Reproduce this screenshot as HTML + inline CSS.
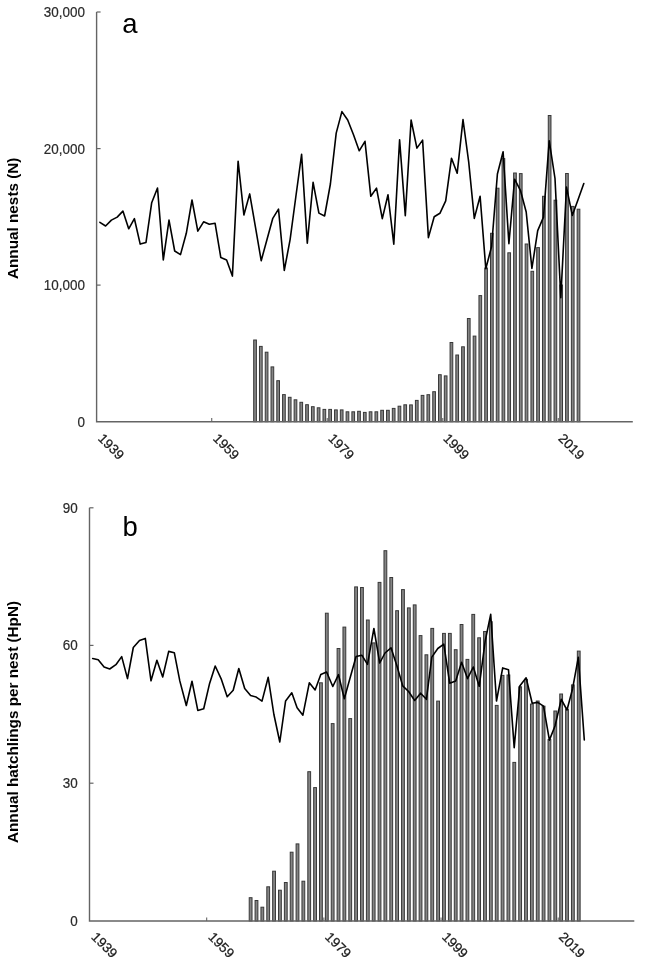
<!DOCTYPE html>
<html><head><meta charset="utf-8"><style>
html,body{margin:0;padding:0;background:#fff;}
body{width:645px;height:974px;overflow:hidden;position:relative;}
svg{position:absolute;left:0;top:0;will-change:transform;}
text{font-family:"Liberation Sans",sans-serif;}
</style></head><body>
<svg width="645" height="974" viewBox="0 0 645 974">

<rect x="253.69" y="340" width="2.7" height="81.7" fill="#858585" stroke="#383838" stroke-width="1.0"/>
<rect x="259.47" y="346.4" width="2.7" height="75.3" fill="#858585" stroke="#383838" stroke-width="1.0"/>
<rect x="265.24" y="352.2" width="2.7" height="69.5" fill="#858585" stroke="#383838" stroke-width="1.0"/>
<rect x="271.02" y="366.9" width="2.7" height="54.8" fill="#858585" stroke="#383838" stroke-width="1.0"/>
<rect x="276.79" y="380.7" width="2.7" height="41" fill="#858585" stroke="#383838" stroke-width="1.0"/>
<rect x="282.57" y="394.6" width="2.7" height="27.1" fill="#858585" stroke="#383838" stroke-width="1.0"/>
<rect x="288.35" y="397.3" width="2.7" height="24.4" fill="#858585" stroke="#383838" stroke-width="1.0"/>
<rect x="294.12" y="399.8" width="2.7" height="21.9" fill="#858585" stroke="#383838" stroke-width="1.0"/>
<rect x="299.9" y="402.3" width="2.7" height="19.4" fill="#858585" stroke="#383838" stroke-width="1.0"/>
<rect x="305.67" y="404.7" width="2.7" height="17" fill="#858585" stroke="#383838" stroke-width="1.0"/>
<rect x="311.45" y="406.7" width="2.7" height="15" fill="#858585" stroke="#383838" stroke-width="1.0"/>
<rect x="317.23" y="407.8" width="2.7" height="13.9" fill="#858585" stroke="#383838" stroke-width="1.0"/>
<rect x="323" y="409.4" width="2.7" height="12.3" fill="#858585" stroke="#383838" stroke-width="1.0"/>
<rect x="328.78" y="409.4" width="2.7" height="12.3" fill="#858585" stroke="#383838" stroke-width="1.0"/>
<rect x="334.55" y="409.9" width="2.7" height="11.8" fill="#858585" stroke="#383838" stroke-width="1.0"/>
<rect x="340.33" y="409.9" width="2.7" height="11.8" fill="#858585" stroke="#383838" stroke-width="1.0"/>
<rect x="346.11" y="411.8" width="2.7" height="9.9" fill="#858585" stroke="#383838" stroke-width="1.0"/>
<rect x="351.88" y="411.8" width="2.7" height="9.9" fill="#858585" stroke="#383838" stroke-width="1.0"/>
<rect x="357.66" y="411.3" width="2.7" height="10.4" fill="#858585" stroke="#383838" stroke-width="1.0"/>
<rect x="363.43" y="412.4" width="2.7" height="9.3" fill="#858585" stroke="#383838" stroke-width="1.0"/>
<rect x="369.21" y="411.8" width="2.7" height="9.9" fill="#858585" stroke="#383838" stroke-width="1.0"/>
<rect x="374.99" y="411.8" width="2.7" height="9.9" fill="#858585" stroke="#383838" stroke-width="1.0"/>
<rect x="380.76" y="410.3" width="2.7" height="11.4" fill="#858585" stroke="#383838" stroke-width="1.0"/>
<rect x="386.54" y="410.3" width="2.7" height="11.4" fill="#858585" stroke="#383838" stroke-width="1.0"/>
<rect x="392.31" y="408.4" width="2.7" height="13.3" fill="#858585" stroke="#383838" stroke-width="1.0"/>
<rect x="398.09" y="406.2" width="2.7" height="15.5" fill="#858585" stroke="#383838" stroke-width="1.0"/>
<rect x="403.87" y="404.8" width="2.7" height="16.9" fill="#858585" stroke="#383838" stroke-width="1.0"/>
<rect x="409.64" y="404.9" width="2.7" height="16.8" fill="#858585" stroke="#383838" stroke-width="1.0"/>
<rect x="415.42" y="400.4" width="2.7" height="21.3" fill="#858585" stroke="#383838" stroke-width="1.0"/>
<rect x="421.19" y="395.4" width="2.7" height="26.3" fill="#858585" stroke="#383838" stroke-width="1.0"/>
<rect x="426.97" y="394.7" width="2.7" height="27" fill="#858585" stroke="#383838" stroke-width="1.0"/>
<rect x="432.75" y="391.7" width="2.7" height="30" fill="#858585" stroke="#383838" stroke-width="1.0"/>
<rect x="438.52" y="374.7" width="2.7" height="47" fill="#858585" stroke="#383838" stroke-width="1.0"/>
<rect x="444.3" y="375.9" width="2.7" height="45.8" fill="#858585" stroke="#383838" stroke-width="1.0"/>
<rect x="450.07" y="342.5" width="2.7" height="79.2" fill="#858585" stroke="#383838" stroke-width="1.0"/>
<rect x="455.85" y="355" width="2.7" height="66.7" fill="#858585" stroke="#383838" stroke-width="1.0"/>
<rect x="461.63" y="346.8" width="2.7" height="74.9" fill="#858585" stroke="#383838" stroke-width="1.0"/>
<rect x="467.4" y="318.5" width="2.7" height="103.2" fill="#858585" stroke="#383838" stroke-width="1.0"/>
<rect x="473.18" y="336.1" width="2.7" height="85.6" fill="#858585" stroke="#383838" stroke-width="1.0"/>
<rect x="478.95" y="295.6" width="2.7" height="126.1" fill="#858585" stroke="#383838" stroke-width="1.0"/>
<rect x="484.73" y="268" width="2.7" height="153.7" fill="#858585" stroke="#383838" stroke-width="1.0"/>
<rect x="490.51" y="233.3" width="2.7" height="188.4" fill="#858585" stroke="#383838" stroke-width="1.0"/>
<rect x="496.28" y="188.2" width="2.7" height="233.5" fill="#858585" stroke="#383838" stroke-width="1.0"/>
<rect x="502.06" y="158.6" width="2.7" height="263.1" fill="#858585" stroke="#383838" stroke-width="1.0"/>
<rect x="507.83" y="252.8" width="2.7" height="168.9" fill="#858585" stroke="#383838" stroke-width="1.0"/>
<rect x="513.61" y="173" width="2.7" height="248.7" fill="#858585" stroke="#383838" stroke-width="1.0"/>
<rect x="519.39" y="173.6" width="2.7" height="248.1" fill="#858585" stroke="#383838" stroke-width="1.0"/>
<rect x="525.16" y="244" width="2.7" height="177.7" fill="#858585" stroke="#383838" stroke-width="1.0"/>
<rect x="530.94" y="271.3" width="2.7" height="150.4" fill="#858585" stroke="#383838" stroke-width="1.0"/>
<rect x="536.71" y="247.6" width="2.7" height="174.1" fill="#858585" stroke="#383838" stroke-width="1.0"/>
<rect x="542.49" y="196.3" width="2.7" height="225.4" fill="#858585" stroke="#383838" stroke-width="1.0"/>
<rect x="548.27" y="115.5" width="2.7" height="306.2" fill="#858585" stroke="#383838" stroke-width="1.0"/>
<rect x="554.04" y="200.2" width="2.7" height="221.5" fill="#858585" stroke="#383838" stroke-width="1.0"/>
<rect x="559.82" y="285" width="2.7" height="136.7" fill="#858585" stroke="#383838" stroke-width="1.0"/>
<rect x="565.59" y="173.5" width="2.7" height="248.2" fill="#858585" stroke="#383838" stroke-width="1.0"/>
<rect x="571.37" y="206.4" width="2.7" height="215.3" fill="#858585" stroke="#383838" stroke-width="1.0"/>
<rect x="577.15" y="209.2" width="2.7" height="212.5" fill="#858585" stroke="#383838" stroke-width="1.0"/>
<path d="M96.6 12V421.7H632.8" fill="none" stroke="#646464" stroke-width="1.4"/>
<path d="M96.6 12H100.6" stroke="#646464" stroke-width="1.2"/>
<path d="M96.6 148.6H100.6" stroke="#646464" stroke-width="1.2"/>
<path d="M96.6 285.1H100.6" stroke="#646464" stroke-width="1.2"/>
<path d="M211.72 421.7V418.1" stroke="#646464" stroke-width="1.1"/>
<path d="M327.24 421.7V418.1" stroke="#646464" stroke-width="1.1"/>
<path d="M442.76 421.7V418.1" stroke="#646464" stroke-width="1.1"/>
<path d="M558.28 421.7V418.1" stroke="#646464" stroke-width="1.1"/>
<polyline points="99.9,222.3 105.6,226 111.4,220.1 117.2,217.1 122.9,211.1 128.7,228.8 134.4,218.7 140.2,244.1 146,242.4 151.7,202.7 157.5,188 163.3,259.9 169,220.1 174.7,251 180.5,254.6 186.3,233.3 192,200 197.8,231.2 203.6,221.8 209.3,224.3 215.1,223.3 220.8,257.5 226.6,259.9 232.4,276.1 238.1,161.2 243.9,215 249.7,193.9 255.5,227.3 261.2,260.7 267,239.5 272.8,218.3 278.5,209.2 284.3,270.4 290.1,239.6 295.8,197 301.6,154.4 307.3,243.2 313.1,182.4 318.9,213.1 324.6,216 330.4,184 336.2,133.1 341.9,111.6 347.7,120 353.5,134.7 359.2,150.8 365,141.3 370.8,196.3 376.5,188.1 382.3,218.6 388,194.8 393.8,244.1 399.6,139.8 405.3,215.6 411.1,120 416.9,148.1 422.6,140.1 428.4,237.6 434.2,216.8 439.9,213.3 445.7,200.9 451.5,158.2 457.2,173.2 463,119.6 468.7,162 474.3,218.4 480.1,196.2 485.8,268.7 491.6,246.5 497.4,174 503.1,151.8 508.9,243.7 514.6,179.2 520.4,190.3 526.2,212 531.9,268.5 537.7,230.6 543.5,217.1 549.2,140.7 555,178.5 560.8,297.6 566.5,187.1 572.3,215.4 578.1,199.5 583.8,183.6" fill="none" stroke="#000" stroke-width="1.6" stroke-linejoin="round" stroke-linecap="round"/>
<text transform="translate(84.9,16.9) scale(0.955,1)" font-size="14.1" fill="#2a2a2a" stroke="#2a2a2a" stroke-width="0.2" text-anchor="end">30,000</text>
<text transform="translate(84.9,153.5) scale(0.955,1)" font-size="14.1" fill="#2a2a2a" stroke="#2a2a2a" stroke-width="0.2" text-anchor="end">20,000</text>
<text transform="translate(84.9,290) scale(0.955,1)" font-size="14.1" fill="#2a2a2a" stroke="#2a2a2a" stroke-width="0.2" text-anchor="end">10,000</text>
<text transform="translate(84.9,426.6) scale(0.955,1)" font-size="14.1" fill="#2a2a2a" stroke="#2a2a2a" stroke-width="0.2" text-anchor="end">0</text>
<text transform="translate(97.3,439.2) rotate(45)" font-size="13.5" fill="#1a1a1a" stroke="#1a1a1a" stroke-width="0.25">1939</text>
<text transform="translate(212.34,439.2) rotate(45)" font-size="13.5" fill="#1a1a1a" stroke="#1a1a1a" stroke-width="0.25">1959</text>
<text transform="translate(327.38,439.2) rotate(45)" font-size="13.5" fill="#1a1a1a" stroke="#1a1a1a" stroke-width="0.25">1979</text>
<text transform="translate(442.42,439.2) rotate(45)" font-size="13.5" fill="#1a1a1a" stroke="#1a1a1a" stroke-width="0.25">1999</text>
<text transform="translate(557.46,439.2) rotate(45)" font-size="13.5" fill="#1a1a1a" stroke="#1a1a1a" stroke-width="0.25">2019</text>
<text x="122.2" y="32.6" font-size="27.5" fill="#000">a</text>
<text transform="translate(17.7,218.3) rotate(-90)" font-size="15.3" font-weight="bold" fill="#000" text-anchor="middle">Annual nests (N)</text>
<rect x="249.22" y="897.7" width="2.8" height="23.3" fill="#858585" stroke="#383838" stroke-width="1.0"/>
<rect x="255.08" y="900.5" width="2.8" height="20.5" fill="#858585" stroke="#383838" stroke-width="1.0"/>
<rect x="260.94" y="907.2" width="2.8" height="13.8" fill="#858585" stroke="#383838" stroke-width="1.0"/>
<rect x="266.8" y="886.8" width="2.8" height="34.2" fill="#858585" stroke="#383838" stroke-width="1.0"/>
<rect x="272.66" y="871.2" width="2.8" height="49.8" fill="#858585" stroke="#383838" stroke-width="1.0"/>
<rect x="278.52" y="890.2" width="2.8" height="30.8" fill="#858585" stroke="#383838" stroke-width="1.0"/>
<rect x="284.38" y="882.5" width="2.8" height="38.5" fill="#858585" stroke="#383838" stroke-width="1.0"/>
<rect x="290.24" y="852.2" width="2.8" height="68.8" fill="#858585" stroke="#383838" stroke-width="1.0"/>
<rect x="296.09" y="843.9" width="2.8" height="77.1" fill="#858585" stroke="#383838" stroke-width="1.0"/>
<rect x="301.95" y="881.2" width="2.8" height="39.8" fill="#858585" stroke="#383838" stroke-width="1.0"/>
<rect x="307.81" y="771.7" width="2.8" height="149.3" fill="#858585" stroke="#383838" stroke-width="1.0"/>
<rect x="313.67" y="787.6" width="2.8" height="133.4" fill="#858585" stroke="#383838" stroke-width="1.0"/>
<rect x="319.53" y="682.8" width="2.8" height="238.2" fill="#858585" stroke="#383838" stroke-width="1.0"/>
<rect x="325.39" y="613.2" width="2.8" height="307.8" fill="#858585" stroke="#383838" stroke-width="1.0"/>
<rect x="331.25" y="723.6" width="2.8" height="197.4" fill="#858585" stroke="#383838" stroke-width="1.0"/>
<rect x="337.11" y="648.5" width="2.8" height="272.5" fill="#858585" stroke="#383838" stroke-width="1.0"/>
<rect x="342.97" y="627.1" width="2.8" height="293.9" fill="#858585" stroke="#383838" stroke-width="1.0"/>
<rect x="348.83" y="718.6" width="2.8" height="202.4" fill="#858585" stroke="#383838" stroke-width="1.0"/>
<rect x="354.68" y="586.9" width="2.8" height="334.1" fill="#858585" stroke="#383838" stroke-width="1.0"/>
<rect x="360.54" y="587.5" width="2.8" height="333.5" fill="#858585" stroke="#383838" stroke-width="1.0"/>
<rect x="366.4" y="620" width="2.8" height="301" fill="#858585" stroke="#383838" stroke-width="1.0"/>
<rect x="372.26" y="642.9" width="2.8" height="278.1" fill="#858585" stroke="#383838" stroke-width="1.0"/>
<rect x="378.12" y="582.4" width="2.8" height="338.6" fill="#858585" stroke="#383838" stroke-width="1.0"/>
<rect x="383.98" y="550.7" width="2.8" height="370.3" fill="#858585" stroke="#383838" stroke-width="1.0"/>
<rect x="389.84" y="577.5" width="2.8" height="343.5" fill="#858585" stroke="#383838" stroke-width="1.0"/>
<rect x="395.7" y="610.7" width="2.8" height="310.3" fill="#858585" stroke="#383838" stroke-width="1.0"/>
<rect x="401.56" y="589.6" width="2.8" height="331.4" fill="#858585" stroke="#383838" stroke-width="1.0"/>
<rect x="407.42" y="607.9" width="2.8" height="313.1" fill="#858585" stroke="#383838" stroke-width="1.0"/>
<rect x="413.27" y="604.9" width="2.8" height="316.1" fill="#858585" stroke="#383838" stroke-width="1.0"/>
<rect x="419.13" y="635.6" width="2.8" height="285.4" fill="#858585" stroke="#383838" stroke-width="1.0"/>
<rect x="424.99" y="654.8" width="2.8" height="266.2" fill="#858585" stroke="#383838" stroke-width="1.0"/>
<rect x="430.85" y="628.4" width="2.8" height="292.6" fill="#858585" stroke="#383838" stroke-width="1.0"/>
<rect x="436.71" y="701.1" width="2.8" height="219.9" fill="#858585" stroke="#383838" stroke-width="1.0"/>
<rect x="442.57" y="633.4" width="2.8" height="287.6" fill="#858585" stroke="#383838" stroke-width="1.0"/>
<rect x="448.43" y="633.4" width="2.8" height="287.6" fill="#858585" stroke="#383838" stroke-width="1.0"/>
<rect x="454.29" y="649.7" width="2.8" height="271.3" fill="#858585" stroke="#383838" stroke-width="1.0"/>
<rect x="460.15" y="624.5" width="2.8" height="296.5" fill="#858585" stroke="#383838" stroke-width="1.0"/>
<rect x="466.01" y="659.4" width="2.8" height="261.6" fill="#858585" stroke="#383838" stroke-width="1.0"/>
<rect x="471.86" y="614.4" width="2.8" height="306.6" fill="#858585" stroke="#383838" stroke-width="1.0"/>
<rect x="477.72" y="637.8" width="2.8" height="283.2" fill="#858585" stroke="#383838" stroke-width="1.0"/>
<rect x="483.58" y="631.5" width="2.8" height="289.5" fill="#858585" stroke="#383838" stroke-width="1.0"/>
<rect x="489.44" y="621.7" width="2.8" height="299.3" fill="#858585" stroke="#383838" stroke-width="1.0"/>
<rect x="495.3" y="705.4" width="2.8" height="215.6" fill="#858585" stroke="#383838" stroke-width="1.0"/>
<rect x="501.16" y="675.4" width="2.8" height="245.6" fill="#858585" stroke="#383838" stroke-width="1.0"/>
<rect x="507.02" y="675" width="2.8" height="246" fill="#858585" stroke="#383838" stroke-width="1.0"/>
<rect x="512.88" y="762.4" width="2.8" height="158.6" fill="#858585" stroke="#383838" stroke-width="1.0"/>
<rect x="518.74" y="686.8" width="2.8" height="234.2" fill="#858585" stroke="#383838" stroke-width="1.0"/>
<rect x="524.6" y="679.4" width="2.8" height="241.6" fill="#858585" stroke="#383838" stroke-width="1.0"/>
<rect x="530.45" y="704.1" width="2.8" height="216.9" fill="#858585" stroke="#383838" stroke-width="1.0"/>
<rect x="536.31" y="701" width="2.8" height="220" fill="#858585" stroke="#383838" stroke-width="1.0"/>
<rect x="542.17" y="706.2" width="2.8" height="214.8" fill="#858585" stroke="#383838" stroke-width="1.0"/>
<rect x="548.03" y="739.6" width="2.8" height="181.4" fill="#858585" stroke="#383838" stroke-width="1.0"/>
<rect x="553.89" y="711" width="2.8" height="210" fill="#858585" stroke="#383838" stroke-width="1.0"/>
<rect x="559.75" y="694" width="2.8" height="227" fill="#858585" stroke="#383838" stroke-width="1.0"/>
<rect x="565.61" y="709.3" width="2.8" height="211.7" fill="#858585" stroke="#383838" stroke-width="1.0"/>
<rect x="571.47" y="684.9" width="2.8" height="236.1" fill="#858585" stroke="#383838" stroke-width="1.0"/>
<rect x="577.33" y="651.1" width="2.8" height="269.9" fill="#858585" stroke="#383838" stroke-width="1.0"/>
<path d="M89.5 507.8V921H634.3" fill="none" stroke="#646464" stroke-width="1.4"/>
<path d="M89.5 507.8H93.5" stroke="#646464" stroke-width="1.2"/>
<path d="M89.5 645.4H93.5" stroke="#646464" stroke-width="1.2"/>
<path d="M89.5 783.2H93.5" stroke="#646464" stroke-width="1.2"/>
<path d="M206.68 921V917.4" stroke="#646464" stroke-width="1.1"/>
<path d="M323.86 921V917.4" stroke="#646464" stroke-width="1.1"/>
<path d="M441.04 921V917.4" stroke="#646464" stroke-width="1.1"/>
<path d="M558.22 921V917.4" stroke="#646464" stroke-width="1.1"/>
<polyline points="92.7,658.5 98.2,659.7 104.1,666.9 109.7,669 115.9,664.7 121.7,656.6 127.5,678.6 133.3,647.5 139.5,640.5 145.3,638.4 151,680.8 156.9,660.3 162.7,677 168.7,651.4 174.3,652.7 179.8,680.9 186.3,705.5 192,681.2 197.8,710.4 203.7,708.8 209.6,683.4 215.2,666 221.4,679.4 227.2,696.8 233.2,690.3 238.8,668.5 244.7,688.5 250.6,695.6 256.2,697.1 262,701.1 268.2,677.3 273.9,714.5 279.8,742 285.6,700.9 291.8,692.8 297.1,707.7 302.9,715.2 309.3,682.8 315.1,690 320.8,674.5 326.6,672 332.8,686.5 338.5,674.7 344.3,698.8 350.2,677.5 356.1,656.5 361.8,655.2 367.5,664.3 373.9,628.5 379.7,663 385,653 391,647.8 396.8,665.5 402.7,685.8 408.6,691.5 414.7,700.5 420.6,693.2 426.4,699.3 431.8,657.1 437.8,648.5 443.8,644.1 449.7,683.2 455.7,681 461.6,662.2 467.5,678.6 473.3,667 479.2,686.3 485.2,640.8 490.7,614.4 496.5,701 502.7,667.9 508.5,669.8 514.2,747.6 519.8,686 526.1,677.8 532.2,703.3 537.7,702.4 543.5,706.2 549.4,740.1 555,726 561.3,699.3 567,710 572.6,688.7 578.3,657.3 584.3,740" fill="none" stroke="#000" stroke-width="1.6" stroke-linejoin="round" stroke-linecap="round"/>
<text transform="translate(77.8,512.7) scale(0.955,1)" font-size="14.1" fill="#2a2a2a" stroke="#2a2a2a" stroke-width="0.2" text-anchor="end">90</text>
<text transform="translate(77.8,650.3) scale(0.955,1)" font-size="14.1" fill="#2a2a2a" stroke="#2a2a2a" stroke-width="0.2" text-anchor="end">60</text>
<text transform="translate(77.8,788.1) scale(0.955,1)" font-size="14.1" fill="#2a2a2a" stroke="#2a2a2a" stroke-width="0.2" text-anchor="end">30</text>
<text transform="translate(77.8,925.9) scale(0.955,1)" font-size="14.1" fill="#2a2a2a" stroke="#2a2a2a" stroke-width="0.2" text-anchor="end">0</text>
<text transform="translate(90.6,937.65) rotate(45)" font-size="13.5" fill="#1a1a1a" stroke="#1a1a1a" stroke-width="0.25">1939</text>
<text transform="translate(207.46,937.65) rotate(45)" font-size="13.5" fill="#1a1a1a" stroke="#1a1a1a" stroke-width="0.25">1959</text>
<text transform="translate(324.32,937.65) rotate(45)" font-size="13.5" fill="#1a1a1a" stroke="#1a1a1a" stroke-width="0.25">1979</text>
<text transform="translate(441.18,937.65) rotate(45)" font-size="13.5" fill="#1a1a1a" stroke="#1a1a1a" stroke-width="0.25">1999</text>
<text transform="translate(558.04,937.65) rotate(45)" font-size="13.5" fill="#1a1a1a" stroke="#1a1a1a" stroke-width="0.25">2019</text>
<text x="122.5" y="536" font-size="27.5" fill="#000">b</text>
<text transform="translate(17.7,722) rotate(-90)" font-size="15.3" font-weight="bold" fill="#000" text-anchor="middle">Annual hatchlings per nest (HpN)</text>
</svg>
</body></html>
